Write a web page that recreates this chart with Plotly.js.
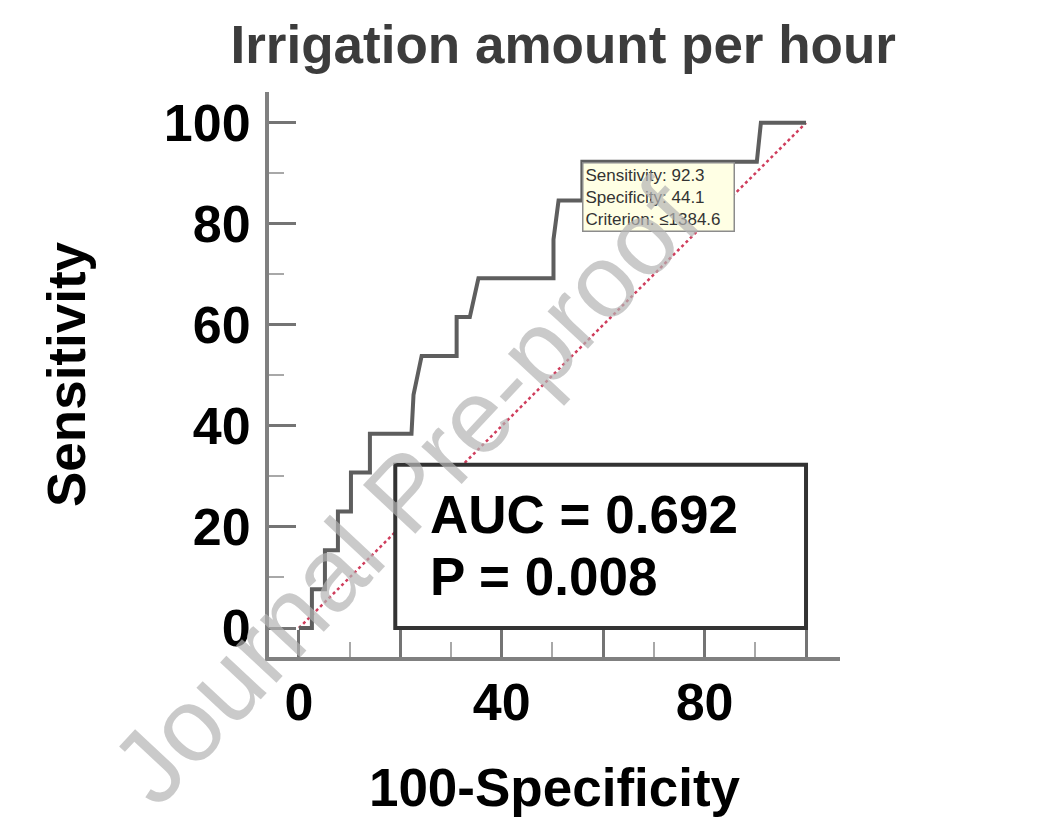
<!DOCTYPE html>
<html>
<head>
<meta charset="utf-8">
<script src="https://cdn.plot.ly/plotly-3.0.1.min.js"></script>
<style>html,body{margin:0;padding:0;background:#fff;}#chart{width:1045px;height:826px;}</style>
</head>
<body>
<div id="chart"></div>
<script>
// ROC curve: 100-Specificity (x) and Sensitivity (y)
const fpr = [0, 2.56, 2.56, 5.13, 5.13, 7.69, 7.69, 10.26, 10.26, 14.0, 14.0, 22.2, 22.6, 24.2, 31.1, 31.1, 33.7, 35.4, 50.2, 50.2, 51.2, 55.9, 55.9, 90.3, 91.1, 100];
const tpr = [0, 0, 7.69, 7.69, 15.38, 15.38, 23.08, 23.08, 30.77, 30.77, 38.46, 38.46, 46.15, 53.85, 53.85, 61.54, 61.54, 69.23, 69.23, 76.92, 84.62, 84.62, 92.31, 92.31, 100, 100];
// chance line
const refX = [0, 100];
const refY = [0, 100];
// optimal criterion point
const optSensitivity = 92.3;
const optSpecificity = 44.1;
const optCriterion = "≤1384.6";
// statistics
const aucText = "AUC = 0.692";
const pText = "P = 0.008";
// ticks
const majorTicks = [0, 20, 40, 60, 80, 100];
const xTickText = ["0", "", "40", "", "80", ""];
const yTickText = ["0", "20", "40", "60", "80", "100"];
const minorTicks = [10, 30, 50, 70, 90];
const watermark = "Journal Pre-proof";

const FONT = "Liberation Sans, Arial, Helvetica, sans-serif";

const traces = [
  {x: refX, y: refY, mode: "lines", line: {color: "#cf3d5c", width: 2.5, dash: "dot"}, hoverinfo: "skip", showlegend: false},
  {x: fpr, y: tpr, mode: "lines", line: {color: "#5e5e5e", width: 4}, showlegend: false}
];

const axisCommon = {
  showline: true, linewidth: 4, linecolor: "#808080",
  showgrid: false, zeroline: false,
  ticks: "inside", ticklen: 27, tickwidth: 3, tickcolor: "#747474",
  tickvals: majorTicks,
  tickfont: {family: FONT, size: 52, color: "#000", weight: "bold"},
  minor: {tickvals: minorTicks, ticks: "inside", ticklen: 15, tickwidth: 2, tickcolor: "#a8a8a8", showgrid: false},
  fixedrange: true
};

const layout = {
  width: 1045, height: 826,
  margin: {l: 269, r: 205, t: 92, b: 169},
  paper_bgcolor: "#fff", plot_bgcolor: "#fff",
  title: {text: "Irrigation amount per hour", font: {family: FONT, size: 53, color: "#3c3c3c", weight: "bold"},
          x: 0.539, xanchor: "center", xref: "container", y: 1 - 44/826, yanchor: "middle", yref: "container"},
  xaxis: Object.assign({}, axisCommon, {range: [-5.9, 106.7], ticktext: xTickText, ticklabelstandoff: -3,
    title: {text: "100-Specificity", font: {family: FONT, size: 53, color: "#000", weight: "bold"}, standoff: 39}}),
  yaxis: Object.assign({}, axisCommon, {range: [-5.74, 106.1], ticktext: yTickText, ticklabelstandoff: 4,
    title: {text: "Sensitivity", font: {family: FONT, size: 53, color: "#000", weight: "bold"}, standoff: 62}}),
  shapes: [
    {type: "rect", xref: "x", yref: "y", x0: 19, x1: 100, y0: 0, y1: 32.3, layer: "above",
     line: {color: "#333", width: 4}, fillcolor: "#fff"}
  ],
  annotations: [
    {text: aucText, xref: "x", yref: "y", x: 25.4, y: 22.4, xanchor: "left", yanchor: "middle", showarrow: false,
     font: {family: FONT, size: 53, color: "#000", weight: "bold"}},
    {text: pText, xref: "x", yref: "y", x: 25.4, y: 10.1, xanchor: "left", yanchor: "middle", showarrow: false,
     font: {family: FONT, size: 53, color: "#000", weight: "bold"}},
    {text: "Sensitivity: " + optSensitivity + "<br>Specificity: " + optSpecificity + "<br>Criterion: " + optCriterion,
     xref: "x", yref: "y", x: 100 - optSpecificity, y: optSensitivity, xanchor: "left", yanchor: "top",
     align: "left", showarrow: false, bgcolor: "#ffffe4", bordercolor: "#8c8c8c", borderwidth: 1.5, borderpad: 2,
     width: 146, font: {family: FONT, size: 17, color: "#333"}},
    {text: watermark, xref: "paper", yref: "paper", x: (405-269)/571, y: (657-492)/565,
     xanchor: "center", yanchor: "middle",
     showarrow: false, textangle: -47, font: {family: FONT, size: 104, color: "rgba(180,180,180,0.7)"}}
  ]
};

Plotly.newPlot("chart", traces, layout, {staticPlot: true, displayModeBar: false});
</script>
</body>
</html>
